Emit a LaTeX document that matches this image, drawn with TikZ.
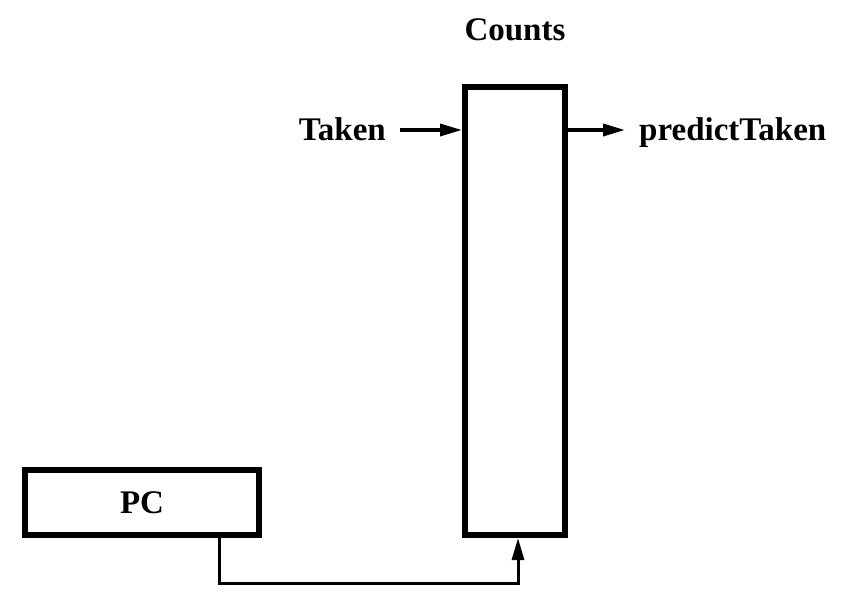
\documentclass[tikz,border=0pt]{standalone}
\usepackage{fontspec}
\setmainfont{Liberation Serif}
\usetikzlibrary{arrows.meta}

\begin{document}
\begin{tikzpicture}[x=1pt,y=-1pt,font=\fontsize{33}{36}\selectfont\bfseries,
    block/.style={draw,line width=6pt,inner sep=0pt},
    wire/.style={line width=3.5pt,-{Triangle[length=22pt,width=12pt]}}]
  \useasboundingbox (0,0) rectangle (848,612);

  \node[block,minimum width=100pt,minimum height=448pt] (counts) at (515,311) {};
  \node[block,minimum width=234pt,minimum height=65pt] (pc) at (142,502.5) {PC};

  \node[anchor=base] (countslbl) at (515,41) {Counts};
  \node[anchor=base east,inner sep=0pt] (taken) at (386,141) {Taken};
  \node[anchor=base west,inner sep=0pt] (predict) at (639,141) {predictTaken};

  \coordinate (tin) at (400,130);
  \coordinate (pout) at (625,130);
  \draw[wire] (tin) -- (counts.west |- tin);
  \draw[wire] (counts.east |- pout) -- (pout);
  \draw[wire,line width=3pt] ([xshift=77pt]pc.south) -- ++(0,45) -| ([xshift=3pt]counts.south);
\end{tikzpicture}
\end{document}
